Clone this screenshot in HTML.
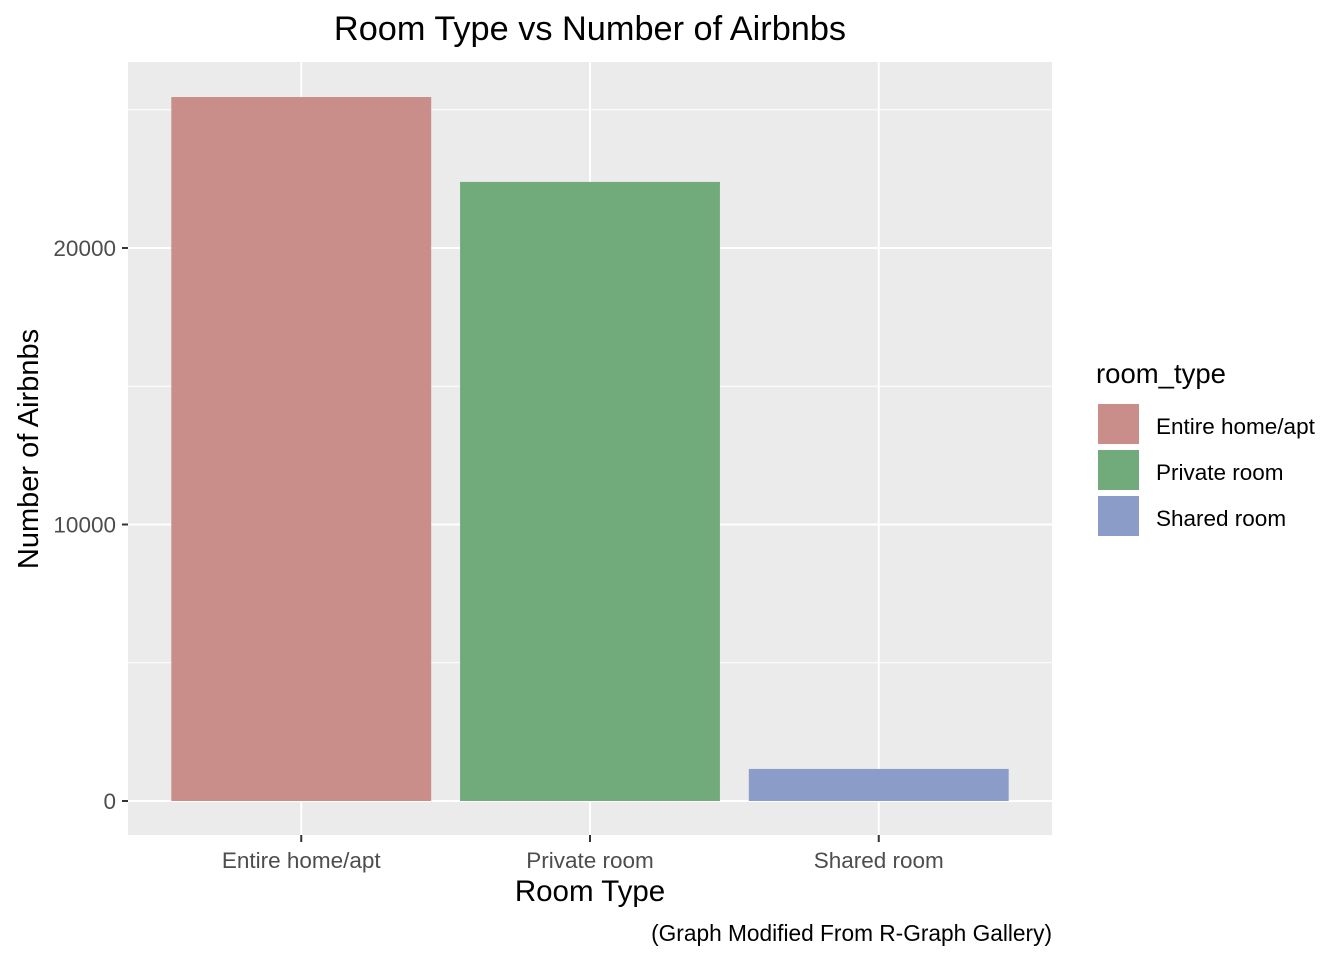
<!DOCTYPE html>
<html><head><meta charset="utf-8"><style>
body{margin:0;background:#fff;font-family:"Liberation Sans",Arial,sans-serif}
</style></head><body>
<svg id="chart" width="1344" height="960" xmlns="http://www.w3.org/2000/svg">
<rect width="1344" height="960" fill="#fff"/>
<text x="590" y="40" font-size="34.3" text-anchor="middle" fill="#000">Room Type vs Number of Airbnbs</text>
<rect x="128" y="62" width="924" height="773" fill="#ebebeb"/>
<g id="grid"></g>
<g id="bars"></g>
<g id="axes"></g>
<text x="590" y="901" font-size="29.5" text-anchor="middle" fill="#000">Room Type</text>
<text transform="translate(38,449) rotate(-90)" font-size="29" text-anchor="middle" fill="#000">Number of Airbnbs</text>
<text x="1052" y="941" font-size="22.7" text-anchor="end" fill="#000">(Graph Modified From R-Graph Gallery)</text>
<g id="legend">
<text x="1096" y="383" font-size="27.5" fill="#000">room_type</text>
</g>
</svg>
<script>
const categories=["Entire home/apt","Private room","Shared room"];
const counts=[25460,22390,1160];
const colors=["#c98d8a","#71ab7c","#8c9cc9"];
const yTicks=[0,10000,20000];
const yMinor=[5000,15000,25000];
const ns="http://www.w3.org/2000/svg";
const px0=128,px1=1052,py0=801,pyPer=0.02765;
function y(v){return py0-v*pyPer;}
const step=(px1-px0)/(categories.length-1+1.2);
function x(i){return px0+step*(0.6+i);}
const bw=step*0.9;
function mk(tag,attrs,parent){const e=document.createElementNS(ns,tag);for(const k in attrs)e.setAttribute(k,attrs[k]);parent.appendChild(e);return e;}
const grid=document.getElementById('grid'),bars=document.getElementById('bars'),axes=document.getElementById('axes'),legend=document.getElementById('legend');
yMinor.forEach(v=>{const l=mk('line',{x1:px0,x2:px1,y1:y(v),y2:y(v),stroke:'#fff','stroke-width':1},grid);

});
yTicks.forEach(v=>{const l=mk('line',{x1:px0,x2:px1,y1:y(v),y2:y(v),stroke:'#fff','stroke-width':2},grid);


const t=mk('line',{x1:122,x2:128,y1:y(v),y2:y(v),stroke:'#333','stroke-width':2},axes);


const tx=mk('text',{x:116,y:y(v)+8,'font-size':22.5,'text-anchor':'end',fill:'#4d4d4d'},axes);tx.textContent=v;

});
categories.forEach((c,i)=>{const cx=x(i);
const g=mk('line',{x1:cx,x2:cx,y1:62,y2:835,stroke:'#fff','stroke-width':2},grid);


const b=mk('rect',{x:cx-bw/2,y:y(counts[i]),width:bw,height:py0-y(counts[i]),fill:colors[i]},bars);


const t=mk('line',{x1:cx,x2:cx,y1:835,y2:842,stroke:'#333','stroke-width':2},axes);


const tx=mk('text',{x:cx,y:868,'font-size':22.5,'text-anchor':'middle',fill:'#4d4d4d'},axes);tx.textContent=c;


const ly=403+i*46;
const k=mk('rect',{x:1097,y:ly,width:43,height:42,fill:colors[i],stroke:'#fff','stroke-width':2},legend);


const lt=mk('text',{x:1156,y:ly+31,'font-size':22.5,fill:'#000'},legend);lt.textContent=c;

});
</script>
</body></html>
